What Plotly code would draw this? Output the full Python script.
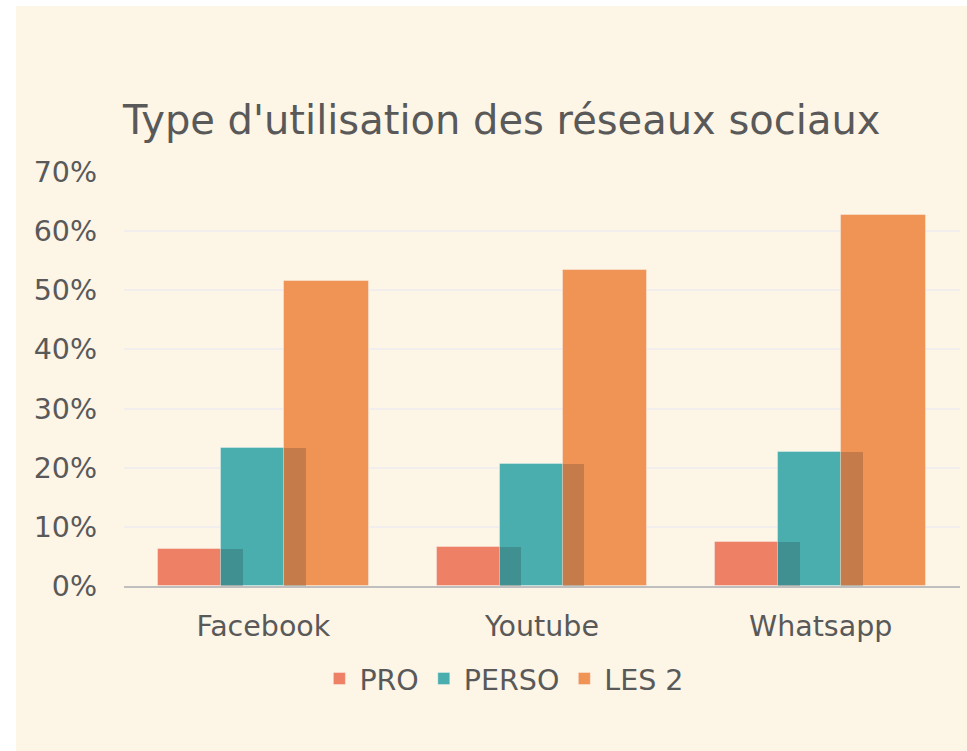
import plotly.graph_objects as go

categories = ["Facebook", "Youtube", "Whatsapp"]
series_names = ["PRO", "PERSO", "LES 2"]
pro = [6.2, 6.6, 7.4]
perso = [23.3, 20.6, 22.7]
les2 = [51.6, 53.4, 62.7]
y_ticks = [0, 10, 20, 30, 40, 50, 60, 70]
y_tick_labels = ["0%", "10%", "20%", "30%", "40%", "50%", "60%", "70%"]

colors = ["#EE8066", "#4AADAE", "#F09456"]
offsets = [-0.378, -0.152, 0.074]
bar_w = 0.304
FONT = "DejaVu Sans"
TXT = "#595959"

x_idx = list(range(len(categories)))
fig = go.Figure()
for name, vals, col, off in zip(series_names, [pro, perso, les2], colors, offsets):
    fig.add_trace(go.Bar(
        x=x_idx, y=vals, name=name, width=bar_w, offset=off,
        marker=dict(color=col, line=dict(color="rgba(255,255,255,0.35)", width=1)),
    ))

# darkened overlap zones (earlier bar seen through the next one)
for vals, off_next, off_prev in [(pro, offsets[1], offsets[0]), (perso, offsets[2], offsets[1])]:
    w = off_prev + bar_w - off_next
    fig.add_trace(go.Bar(
        x=x_idx, y=vals, width=w, offset=off_next, showlegend=False, hoverinfo="skip",
        marker=dict(color="rgba(30,30,30,0.2)", line=dict(width=0)),
    ))

W, H = 967, 751
L, R, T, B = 124, 7, 172, 165
pw = W - L - R
ph = H - T - B

fig.add_shape(type="rect", xref="paper", yref="paper", layer="below",
              x0=(16 - L) / pw, x1=(W + 10 - L) / pw,
              y0=-1.0, y1=(H - B - 6) / ph,
              fillcolor="#FDF5E6", line=dict(width=0))

fig.update_layout(
    width=W, height=H,
    margin=dict(l=L, r=R, t=T, b=B, pad=0),
    paper_bgcolor="white",
    plot_bgcolor="rgba(0,0,0,0)",
    barmode="overlay",
    bargap=0,
    font=dict(family=FONT, size=28.5, color=TXT),
    title=dict(text="Type d'utilisation des réseaux sociaux", x=(L - 1) / W, xanchor="left",
               y=1 - 120 / H, yanchor="middle", font=dict(family=FONT, size=40, color=TXT)),
    legend=dict(orientation="h", x=0.455, xanchor="center", y=-0.2246, yanchor="middle",
                font=dict(family=FONT, size=28.5, color=TXT), bgcolor="rgba(0,0,0,0)",
                traceorder="normal", itemwidth=30),
    xaxis=dict(tickmode="array", tickvals=x_idx, ticktext=categories, range=[-0.5, 2.5],
               showgrid=False, showline=True, linecolor="#BFBFBF", linewidth=2,
               ticks="", ticklabelstandoff=14, zeroline=False),
    yaxis=dict(range=[0, 70], tickmode="array", tickvals=y_ticks, ticktext=y_tick_labels,
               showgrid=True, gridcolor="#F3EEEE", gridwidth=1.5, zeroline=False,
               showline=False, ticks="", ticklabelstandoff=26),
)

fig.write_html("out.html", config={"displayModeBar": False},
               post_script="document.body.style.margin='0';document.body.style.overflow='hidden';")
